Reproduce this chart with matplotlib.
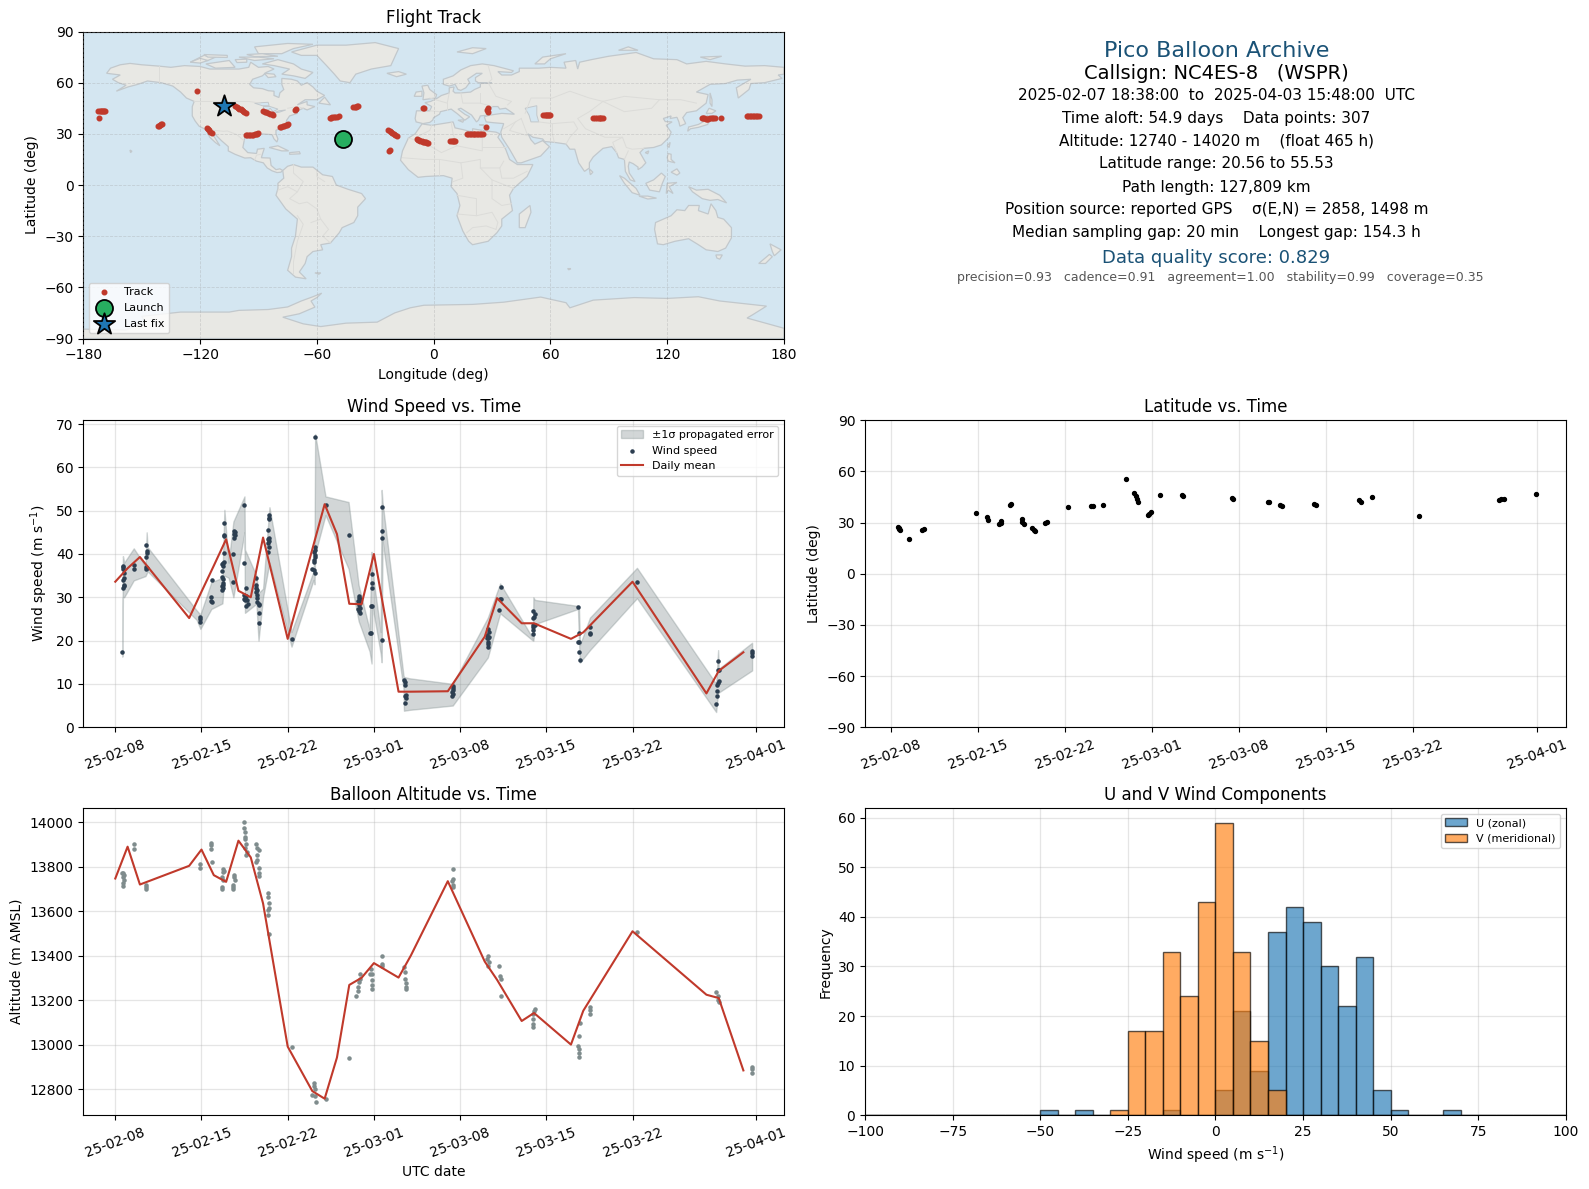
import matplotlib
matplotlib.use("Agg")
import matplotlib.dates as mdates
import matplotlib.pyplot as plt
from matplotlib.patches import Polygon

# ---- map outlines (lon, lat) ----
north_america = [(-168,65.5),(-166,68.5),(-161,70.5),(-156,71.3),(-150,70.5),(-141,69.7),(-135,69),(-128,70),(-120,69.5),(-115,68),(-108,68),(-100,68),(-95,69),(-94,72),(-90,69),(-85,69.5),(-82,68),(-86,66),(-88,64),(-93,62),(-94.5,59),(-92.5,57),(-88,56.5),(-85,55.3),(-82,55),(-82,52.5),(-79.5,51.3),(-79,54),(-77,56),(-78,59),(-78,62.5),(-73,62),(-70,61),(-68,58.5),(-65,60),(-62,57.5),(-60,55),(-56,52.5),(-60,50),(-66,50),(-70,47),(-65,49),(-65,47),(-61,46),(-65,44),(-67,45),(-70,43.5),(-70,42),(-74,40.5),(-75.5,38),(-76,35),(-78,34),(-81,32),(-81,30),(-80,27),(-80.5,25.2),(-82,27),(-83,29.5),(-85,29.7),(-89,30),(-90,29),(-94,29.5),(-97,28),(-97.5,25),(-98,22),(-95.5,19),(-91,18.5),(-90.5,21),(-87,21.5),(-88,18),(-88.5,16),(-84,15.8),(-83.5,11.5),(-81,9),(-79,9.5),(-77.5,8.5),(-78.5,7.5),(-80.5,7.3),(-83,8.3),(-85.5,10),(-87.5,13),(-91,14),(-94,16),(-97,15.8),(-102,18),(-105.5,20),(-105.5,22.5),(-109,26),(-112.5,30),(-114.5,31.5),(-112,27),(-109.8,23),(-112,24.8),(-115,28),(-117,32.5),(-120.5,34.5),(-122.5,37.5),(-124,40.5),(-124,46),(-123,49),(-127,51),(-130,54.5),(-134,58),(-140,60),(-147,61),(-152,59),(-157,57.5),(-163,55),(-158,58.5),(-162,60),(-165,62),(-161,64.5),(-168,65.5)]
greenland = [(-73,78),(-68,76),(-60,76),(-55,70),(-51,65),(-48,61),(-43,60),(-40,65),(-32,68),(-22,70),(-20,75),(-18,80),(-30,83.5),(-45,82),(-60,82),(-73,78)]
baffin = [(-80,73.5),(-72,71),(-68,68),(-62,66),(-66,62.5),(-72,64),(-78,65),(-74,68),(-82,70),(-88,71),(-80,73.5)]
victoria = [(-117,71),(-105,73),(-102,69),(-112,68.5),(-117,71)]
ellesmere = [(-90,77),(-78,77),(-72,80),(-62,82.5),(-75,83),(-92,81),(-90,77)]
arctic_a = [(-125,72),(-118,76),(-112,75),(-116,73),(-125,72)]
arctic_b = [(-100,75),(-90,75),(-82,74),(-92,73),(-100,75)]
banks = [(-125,72),(-120,74.3),(-116,73),(-120,71.5),(-125,72)]
devon = [(-96,76.5),(-88,77),(-80,75.5),(-92,75.3),(-96,76.5)]
melville = [(-118,76.5),(-106,76),(-106,74.8),(-116,75),(-118,76.5)]
prince_wales = [(-102,73.5),(-96,73.8),(-96,72),(-101,71.8),(-102,73.5)]
southampton = [(-87,65.5),(-82,65),(-81,63.5),(-85,63),(-87,65.5)]
newfoundland = [(-59,48),(-56,51.5),(-53,47),(-59,48)]
eurasia = [(-9,37),(-9.5,39),(-8.8,43.5),(-2,43.5),(-1,46),(-4.5,48.3),(-1.5,49),(2,51),(4,52.5),(8,54),(8,57),(10.5,57.5),(10,55),(11,54),(14,54),(19,54.5),(21,56),(24,57.5),(24,59.5),(30,60),(23,60),(21.5,61),(21.5,63),(25,65.5),(22,65.5),(17.5,62),(18.5,60),(16.5,57),(14,55.5),(12.5,56),(11,59),(8,58),(5,59),(5,62),(10,64),(14,67.5),(19,70),(25,71),(31,70),(41,67),(40,66),(33,66.5),(35,64.5),(40,64.5),(44,66.5),(44,68.5),(54,68.5),(60,69),(68,68.5),(67,72),(73,73),(74,68),(75,72),(81,73.5),(90,75.5),(104,77.7),(113,74),(125,73.5),(130,71),(140,72.5),(150,71),(160,69.7),(170,70),(180,69),(180,65),(177,64.5),(179,62.5),(170,60),(163,59.5),(162,56),(156.5,51),(155.5,57),(163,62),(156,61.5),(150,59.5),(142,59),(135,54.5),(141,53),(140,48),(135,43.5),(130,42.5),(128,39.5),(129.5,36),(126.5,34.5),(126,37),(125,39.7),(121.5,39),(122,40.5),(118,39),(119,37.2),(122.5,37),(119.5,35),(122,31),(121,28),(117,23.5),(113,22),(108,21.5),(106,19),(109,13),(107,10.5),(105,9),(105,10.5),(102.5,12.5),(100.5,13.5),(100,11),(100.5,7),(103.5,2),(101,3),(98.5,8),(98,15),(95,16),(94,19),(91.5,22.5),(87,21.5),(82,16.5),(80,13),(80,10),(77.5,8),(74.5,13),(73,19),(72.5,21),(70,21),(68,24),(62,25),(57,25.5),(56,27),(51,28),(48.5,30),(50,26.5),(52,24),(56,26),(59.5,22.5),(55,17),(45,13),(43,13),(39,21),(35,28),(34.5,31),(36,36),(31,36.5),(27,37),(26,40),(29,41),(35,42),(41.5,41.5),(37,45),(34,44.5),(33,46),(30,46),(28,43),(28,41),(24,40.5),(23,38),(22,37),(19.5,41),(14,45),(12.5,44.5),(16,41.5),(18.5,40),(16,38),(12.5,41.5),(9,44.5),(3.5,43),(3,41.5),(0,39.5),(-0.5,38),(-2,36.7),(-5.5,36),(-9,37)]
africa = [(-6,35.8),(-1,35),(10,37),(11,33.5),(15,32.5),(20,31),(20,33),(25,32),(32,31),(34,30),(33,28),(35.5,24),(37,21),(39,15),(43,12),(51,12),(48,5),(41,-2),(39,-6),(40.5,-15),(35,-20),(35,-24),(32.5,-28),(28,-33),(20,-35),(18,-33),(15,-27),(12,-18),(13.5,-12),(12,-5),(9,-1),(9.5,4),(5,5.5),(-4,5),(-8,4.5),(-13,9),(-17,14.5),(-16,20),(-13,27.5),(-9.5,30),(-6,35.8)]
south_america = [(-77.5,8.5),(-75,11),(-72,12),(-68,10.5),(-62,10.5),(-57,6),(-52,5),(-50,0),(-44,-2.5),(-37,-5),(-35,-8),(-39,-13),(-39,-18),(-41,-22),(-47,-25),(-48.5,-28),(-53,-34),(-58,-35),(-57,-38),(-62,-39),(-65,-42),(-66,-46),(-69,-51),(-65.5,-55),(-71,-54),(-75,-50),(-73,-42),(-73,-37),(-71,-30),(-70,-20),(-76,-14),(-81,-6),(-80,-2),(-80,1),(-77,4),(-77.5,8.5)]
australia = [(114,-22),(113.5,-26),(115,-34.5),(118,-35),(124,-33),(131,-31.5),(136,-35),(140,-38),(146,-39),(150,-37),(153,-31),(153,-25),(149,-20),(146,-19),(145,-15),(142.5,-11),(141,-17),(136,-15),(136.5,-12),(131,-12),(129,-15),(125,-14.5),(122,-18),(117,-20.5),(114,-22)]
antarctica = [(-180,-90),(-180,-84.5),(-158,-85),(-148,-80),(-150,-77),(-130,-74.5),(-105,-74.5),(-100,-73.5),(-85,-73),(-75,-71.5),(-68,-68),(-62,-65.5),(-57.5,-63.4),(-60,-66),(-63,-68),(-61,-71.6),(-69,-75.5),(-77.5,-77.5),(-67,-81.4),(-58,-83),(-45,-81),(-29,-80.4),(-20,-75),(-12,-72),(-5,-70.5),(20,-70),(36,-68.7),(55,-65.7),(68,-69),(70,-72),(82,-67.5),(103,-66),(120,-66.5),(136,-65.5),(147,-68),(171,-71),(164,-76),(161,-78),(180,-84),(180,-90)]
britain = [(-5.5,50),(1,51),(1.5,53),(-2,56),(-3,58.5),(-6,58),(-5,54),(-5.5,50)]
ireland = [(-10,52),(-6,52),(-6,55),(-9,54.5),(-10,52)]
iceland = [(-24,65.5),(-18,66.5),(-14,65),(-19,63.5),(-24,65.5)]
svalbard = [(12,78),(20,80.5),(27,80),(20,77),(12,78)]
novaya = [(52,71),(56,75),(68,77),(60,74),(57,71),(52,71)]
severnaya = [(95,79),(105,79),(100,81),(95,79)]
new_siberia = [(137,75),(148,75.5),(142,73.5),(137,75)]
sakhalin = [(142,54),(143,50),(143,46),(142,48),(142,54)]
hokkaido = [(140,42),(141.5,45),(145,43.5),(143,42),(140,42)]
honshu = [(130.5,31.5),(131,34),(136,35.5),(140,38),(140.5,41),(142,39.5),(140.8,35.5),(136,33.8),(132,33),(130.5,31.5)]
taiwan = [(120,23),(121.5,25),(121,22),(120,23)]
hainan = [(108.7,19),(110.5,20),(110,18.3),(108.7,19)]
luzon = [(120,16),(120.5,18.5),(122,18),(122,15),(124,13),(120.5,14),(120,16)]
mindanao = [(122,7.5),(125,9.5),(126.5,7),(125,5.8),(122,7.5)]
borneo = [(109,1),(113,3),(117,7),(119,5),(117.5,1),(116,-4),(111,-3),(109,1)]
sumatra = [(95.5,5.5),(98,4),(104,-2),(106,-6),(102,-4.5),(98,1),(95.5,5.5)]
java = [(105.5,-6.5),(110,-6.5),(114.5,-7.7),(110,-8.2),(105.5,-6.5)]
sulawesi = [(119.5,-5),(120,1),(125,1.5),(121,-1),(123,-5),(120.5,-3),(119.5,-5)]
new_guinea = [(131,-1),(135,-3),(141,-2.5),(147,-6),(150.5,-10.5),(146,-8.5),(142,-9),(138,-8),(133,-4),(131,-1)]
sri_lanka = [(80,9.5),(81.8,7.5),(80.5,6),(80,9.5)]
madagascar = [(49.5,-12),(50,-16),(47,-25),(44,-25),(44,-17),(49.5,-12)]
cuba = [(-84.5,22),(-80,23),(-74.5,20),(-78,20),(-84.5,22)]
hispaniola = [(-74,19),(-69,19.5),(-68.5,18.3),(-74,18),(-74,19)]
hawaii = [(-156,20.5),(-155,19.8),(-155.7,19),(-156,20.5)]
nz_north = [(172.8,-34.5),(178.5,-38),(175,-41.5),(174,-39),(172.8,-34.5)]
nz_south = [(172.5,-40.7),(174,-42),(170.5,-46),(167,-46),(172.5,-40.7)]
tasmania = [(145,-41),(148.3,-41),(147,-43.5),(145.5,-42.8),(145,-41)]
falkland = [(-61,-51.5),(-58,-51.5),(-59,-52.3),(-61,-51.5)]
kerguelen = [(68.8,-49),(70.5,-49),(69.5,-49.7),(68.8,-49)]
sicily = [(12.5,38),(15.5,38.2),(15,36.8),(12.5,38)]
crete_cyprus = [(23.5,35.4),(26,35.2),(24,35),(23.5,35.4)]
land_polys = [north_america, greenland, baffin, victoria, ellesmere, arctic_a, arctic_b, banks, devon, melville,
              prince_wales, southampton, newfoundland,
              eurasia, africa, south_america, australia, antarctica, britain, ireland, iceland, svalbard,
              novaya, severnaya, new_siberia, sakhalin, hokkaido, honshu, taiwan, hainan, luzon, mindanao,
              borneo, sumatra, java, sulawesi, new_guinea, sri_lanka, madagascar, cuba, hispaniola, hawaii,
              nz_north, nz_south, tasmania, falkland, kerguelen, sicily, crete_cyprus]

caspian = [(47,45),(53,46.5),(53,41),(54,37),(50,37),(49,41),(47,45)]
superior = [(-92,48),(-85,48.5),(-84.5,46.5),(-88,46.5),(-92,48)]
michigan_huron = [(-87.5,46),(-84,46),(-80,44.5),(-82.5,43),(-84,45),(-87,41.8),(-87.5,46)]
erie_ontario = [(-83,42),(-79,42.8),(-76,44),(-79.5,43.5),(-83,42)]
sea_polys = [caspian, superior, michigan_huron, erie_ontario]

borders = [
    [(-141,60),(-141,69.7)],
    [(-123,49),(-95,49),(-89,48)],
    [(-75,45),(-70,46),(-67,45)],
    [(-117,32.5),(-108,31.5),(-106,31.7),(-101,29.5),(-97.5,26)],
    [(-92,14.5),(-91,17.5),(-89,18)],
    [(-72,12),(-72,7),(-67,2),(-70,-4),(-74,-8),(-69,-11),(-65,-10),(-60,-14),(-58,-20),(-54,-26),(-57,-30),(-53,-34)],
    [(-80,-3),(-75,-1),(-70,-4)],
    [(-70,-18),(-67,-23),(-70,-33),(-72,-45),(-72,-52)],
    [(-60,8),(-60,5),(-56,2)],
    [(-63,-22),(-58,-20)],
    [(-9,28),(-2,32),(-1,35)],
    [(-13,27.5),(-5,25),(4,19),(12,23),(10,30),(9,37)],
    [(12,23),(25,20),(25,32)],
    [(25,22),(37,22)],
    [(-16,16),(-5,15),(3,15),(14,13),(24,15),(24,10),(34,10),(36,14)],
    [(3,15),(3,6)],
    [(14,13),(15,4),(10,2)],
    [(24,10),(30,3),(41,-2)],
    [(34,10),(35,4),(41,4),(48,8)],
    [(30,3),(30,-8),(35,-12),(40,-11)],
    [(12,-6),(22,-8),(22,-18),(12,-17)],
    [(22,-18),(30,-16),(33,-22),(32,-26)],
    [(17,-28),(20,-25),(27,-24),(32,-26)],
    [(-2,43.5),(3,43)],
    [(-2,51),(7,48),(8,54)],
    [(7,48),(7,44)],
    [(14,54),(15,48),(24,48),(30,46)],
    [(24,54),(24,48)],
    [(28,60),(32,52),(40,49),(38,47)],
    [(28,70),(30,62),(28,60)],
    [(47,42),(50,51),(61,51),(70,55),(80,51),(87,49),(98,52),(116,50),(127,50),(135,48)],
    [(87,49),(80,43),(74,39),(78,33),(88,28),(97,28),(99,22),(102,21),(108,21.5)],
    [(87,49),(98,43),(112,45),(116,50)],
    [(54,37),(61,36),(61,30),(62,25)],
    [(61,36),(72,37),(74,33),(70,28),(68,24)],
    [(45,39),(48,30)],
    [(36,33),(42,37),(45,39)],
    [(42,37),(39,32),(48,29)],
    [(94,19),(92,25),(97,28)],
    [(100,20),(98,15)],
]

# ---- flight track, reported positions ----
track_lon = [-172.3,-171.6,-171,-170.5,-170,-169.4,-168.9,-171.8,-141.8,-141.2,-140.6,-140,-139.5,-121.4,-116.6,-116,-115.5,-114.8,-114,
             -102,-101.2,-100.5,-99.8,-99,-98.4,-97.8,-97.2,-96.6,-87.5,-86.8,-86,-85,-84,-83.2,-82.4,-71,-70.6,-79,-78.2,-77.5,-76.8,-76,-75.3,-74.7,
             -96.4,-95.7,-95,-94.2,-93.5,-92.8,-92,-91.2,-90.5,-90,-53.2,-52.6,-52,-51.2,-50.5,-49.5,-48.5,-41.3,-40.6,-40,-39.4,-38.7,
             -23.3,-22.6,-22,-21.2,-20.5,-19.8,-19,-22.8,-22.3,-8.7,-8,-7.5,-6.8,-6,-5.5,-5,-4.4,-3.8,-3.2,-2.7,-5.3,-4.8,8.5,9.2,9.8,10.4,11,
             17,17.8,18.5,19.2,20,20.8,21.5,22.2,23,23.8,24.5,25.5,27,27.7,27.5,27.9,
             56.4,57,57.5,58.2,59,59.5,60,82,83,84,84.8,85.5,86.2,87,137.8,138.4,139,139.8,140.5,141.2,142,142.8,143.5,144.6,147.4,
             160.9,161.7,162.5,163.2,164,164.8,165.5,166.2,166.9]
track_lat = [43.5,43.6,43.6,43.5,43.5,43.6,43.6,39.4,34.5,34.8,35.1,35.5,35.8,55.2,33.3,32.6,32,31.3,30.6,
             46.6,46,45.4,44.8,44.3,43.7,43.2,42.6,42.1,43.1,42.9,42.6,42.2,41.9,41.6,41.3,44.1,44.3,34,34.3,34.6,34.8,34.9,35.2,35.5,
             29.2,29.2,29.3,29.4,29.5,29.6,29.8,30,30.2,30.6,39.4,39.5,39.6,39.7,39.9,40,40.2,45.7,45.9,46,46.2,46.4,
             32,31.5,31,30.5,30,29.5,29,20.2,20.6,26.7,26.4,26.2,26,25.8,25.5,25.3,25.1,25,24.7,24.5,45.3,45.3,26,26,26,26,26,
             30,30,30,30,30,30,30,30,30,30,30,30,34.1,45.3,44,43,
             41,41,41,41,41,41,41,39.4,39.4,39.4,39.4,39.4,39.4,39.4,39.3,39.1,39,38.9,38.9,38.9,39,39,39,39,39,
             40.6,40.6,40.6,40.6,40.6,40.6,40.6,40.6,40.6]
launch_lon, launch_lat = -46.4, 27.1
last_lon, last_lat = -107.5, 46.6

# ---- time series, x in days after 2025-02-08 ----
wind_days = [.65,.65,.65,.73,.73,.65,.73,.65,.73,.57,1.49,1.49,
             2.52,2.6,2.6,2.52,2.5,2.6,2.5,6.91,6.91,6.91,7.88,7.8,7.8,7.88,
             8.86,8.86,8.86,8.86,8.7,8.78,8.86,8.78,8.7,8.7,8.78,8.78,8.78,8.7,8.78,8.7,
             9.67,9.75,9.67,9.75,9.67,9.59,9.59,
             10.49,10.49,10.65,10.49,10.57,10.65,10.49,10.57,10.71,10.76,10.65,
             11.46,11.46,11.46,11.54,11.46,11.54,11.54,11.54,11.63,11.71,11.63,11.63,
             12.52,12.52,12.52,12.44,12.52,12.36,12.52,12.44,12.52,12.44,
             16.23,16.18,16.18,16.1,16.18,16.18,16.1,16.1,16,16.1,16.18,14.31,17.07,18.94,
             19.76,19.76,19.84,19.67,19.84,19.76,19.67,19.84,19.76,19.84,
             20.65,20.73,20.73,20.81,20.81,20.81,20.81,21.63,21.63,21.63,21.63,
             23.44,23.52,23.52,23.6,23.52,23.6,23.52,
             27.4,27.4,27.4,27.32,27.4,27.32,
             30.25,30.33,30.17,30.33,30.25,30.17,30.25,30.25,30.25,
             31.33,31.25,31.33,31.14,33.91,34.07,33.99,33.91,33.91,34.07,33.91,33.91,33.91,
             37.57,37.65,37.57,37.65,37.65,37.73,38.54,38.54,38.54,42.36,
             48.95,49.03,48.95,49.03,48.95,48.87,48.87,48.87,48.79,51.71,51.71,51.71]
wind_speed = [37.3,36.9,36.6,35.6,34.4,33.9,32.9,32.2,32.5,17.3,37.5,36.6,
              42.0,40.6,40.2,39.3,36.9,36.7,36.5,25.5,25.0,24.4,33.9,30.0,29.2,28.9,
              47.1,44.3,44.2,40.2,37.6,37.9,38.1,37.2,36.0,34.8,34.2,33.2,32.9,32.5,32.1,31.6,
              45.3,45.0,44.6,44.3,43.8,40.0,33.5,
              51.3,37.9,32.2,30.6,29.9,30.4,29.6,29.3,29.4,28.4,28.1,
              34.4,32.8,32.2,31.7,31.2,30.6,29.8,28.9,28.4,28.2,26.3,24.0,
              48.9,48.4,48.0,45.5,43.8,43.5,43.0,42.5,41.5,40.4,
              67.0,41.5,41.0,40.4,39.8,39.2,38.6,38.1,36.6,36.2,35.7,20.3,51.3,44.3,
              30.2,29.9,29.6,29.2,28.9,28.2,27.3,27.5,26.9,26.3,
              21.8,21.7,27.9,27.9,35.3,33.3,32.1,50.8,45.3,43.7,20.1,
              11.0,10.5,9.7,7.4,7.1,6.7,5.7,
              9.5,9.0,8.5,8.1,7.6,7.3,
              22.7,21.9,21.3,20.9,20.5,20.5,19.6,19.2,18.6,
              32.3,29.6,29.6,27.0,26.9,26.2,25.5,25.2,23.6,23.5,23.2,22.4,21.5,
              27.7,21.7,19.6,19.6,17.3,15.5,23.1,21.7,21.5,33.5,
              15.2,13.1,13.1,10.7,10.3,9.8,8.4,7.1,5.3,17.6,17.1,16.5]

band_days = [.57,.62,.72,1.5,2.45,2.55,2.62,6.6,6.91,7.8,8.7,8.86,9.2,9.59,10.49,10.53,11.46,11.63,12.0,12.52,
             14.31,16.1,16.18,16.23,17.07,18.94,19.76,20.65,20.81,20.88,21.55,21.63,21.7,23.4,23.44,23.88,27.4,30.25,31.25,
             33.91,33.95,34.07,37.57,37.65,37.73,38.54,42.36,48.79,48.95,49.0,51.71]
band_upper = [18.5,39.5,38,41.3,37.2,45,41.6,27,26,33.5,34.5,50.2,38,47.5,53.3,41,35,31,32,50.8,
              22,36,41,67.7,53.3,52,32.8,22.5,40.5,36,22,54.8,52,12,11.6,11.3,10,25.3,33.2,
              20.5,30,29.4,28,27.8,19,25.3,36.8,10,17.8,13.5,19.5]
band_lower = [16.3,30,30,33.9,34.9,35.5,36,24.8,22.7,27.3,28.6,35,34.5,30,45,26.4,28.5,20,30,38,
              18.6,34,33,40,49,36.6,24.5,17.5,14.7,28,17,15,43,9,3.8,4,5,16.1,26.3,
              20,20,23.8,27.3,20,14.9,17.8,29.8,3.5,8,8,13.1]

mean_days = [0,1,2,6,7,8,9,10,11,12,14,15,16,17,18,19,20,21,23,24,27,30,31,33,34,37,38,42,48,49,51]
wind_mean = [33.6,36.7,39.3,25.2,31.3,37.3,43.4,31.5,30.0,43.8,20.4,30.8,41.1,51.5,44.6,28.5,28.4,40.0,8.2,8.2,8.3,20.9,29.8,24.0,24.0,20.4,21.9,33.6,7.8,13.0,17.3]

alt_days = [.65,.73,.57,.65,.73,.65,.65,1.49,1.54,2.52,2.52,2.52,6.91,6.91,7.8,7.8,7.8,7.88,
            8.78,8.78,8.86,8.7,8.78,8.7,8.7,9.67,9.67,9.75,9.59,9.59,9.59,
            10.49,10.49,10.57,10.57,10.57,10.65,10.57,10.73,10.65,
            11.46,11.54,11.63,11.54,11.54,11.46,11.63,11.63,11.63,
            12.44,12.44,12.52,12.52,12.44,12.44,12.52,14.31,
            16.1,16.1,16.18,16,16.18,16.26,17.07,18.94,
            19.84,19.84,19.76,19.67,19.67,19.57,20.73,20.65,20.81,20.81,20.81,20.81,21.63,21.63,21.63,
            23.44,23.52,23.52,23.6,23.6,23.6,27.4,27.4,27.32,27.4,27.4,
            30.25,30.17,30.33,30.25,31.14,31.25,31.33,31.33,
            34.07,33.99,33.91,33.91,33.91,33.91,37.73,37.65,37.57,37.65,37.65,37.65,38.54,38.54,38.54,
            42.36,48.79,48.95,48.95,49.03,51.71,51.71,51.71]
alt_m = [13770,13762,13770,13752,13740,13728,13713,13901,13878,13720,13710,13698,13812,13795,13908,13898,13878,13820,
         13788,13777,13782,13752,13740,13710,13699,13762,13752,13740,13717,13707,13698,
         14000,13976,13958,13935,13923,13902,13883,13868,13853,
         13902,13883,13875,13853,13830,13820,13792,13770,13758,
         13680,13662,13639,13616,13607,13582,13499,12989,
         12830,12815,12800,12774,12770,12741,12755,12940,
         13319,13296,13281,13259,13243,13219,13341,13319,13316,13289,13270,13251,13400,13361,13352,
         13349,13326,13296,13277,13259,13250,13788,13747,13737,13717,13710,
         13398,13386,13371,13356,13355,13310,13296,13219,
         13161,13153,13138,13116,13093,13078,13098,13039,12995,12980,12965,12944,13168,13158,13138,
         13508,13237,13218,13201,13191,12899,12890,12872]
alt_mean = [13747,13890,13720,13804,13877,13762,13732,13917,13842,13635,12992,12792,12758,12943,13269,13301,13367,13302,13401,13735,13374,13292,13107,13143,13001,13153,13510,13225,13210,12885]
alt_mean_days = [0,1,2,6,7,8,9,10,11,12,14,16,17,18,19,20,21,23,24,27,30,31,33,34,37,38,42,48,49,51]

lat_days = [.6,.65,.7,.75,1.5,2.55,2.65,6.9,7.75,7.85,8.75,8.85,8.9,9.6,9.7,10.55,10.6,10.7,11.4,11.5,11.6,
            12.45,12.55,14.3,16.1,16.25,17.1,18.9,19.6,19.7,19.8,19.9,20.7,20.8,20.9,21.7,23.45,23.55,
            27.45,27.55,30.35,30.45,31.35,31.5,34.05,34.2,37.7,37.85,38.7,42.5,48.95,49.1,49.3,51.9]
lat_deg = [27.3,27,26.3,25.8,20.5,25.6,26.4,35.3,33.5,31.3,29.2,30,30.8,40,40.6,32.2,30.5,29.4,26.6,25.7,25.1,
           30,30.6,39.3,39.4,39.6,40,55.4,47.2,45.5,43.7,42.2,34.6,35.2,36,46.4,45.9,45.3,
           44.6,43.9,41.8,41.8,40.1,39.4,41.1,40.4,43,42.2,44.8,34.1,43.5,43.6,43.7,46.6]

date_ticks = ["2025-02-08","2025-02-15","2025-02-22","2025-03-01","2025-03-08","2025-03-15","2025-03-22","2025-04-01"]

# ---- histogram counts, 5 m/s bins from -100 to 100 ----
hist_edges = list(range(-100, 105, 5))
u_counts = [0]*10 + [1,0,1,0,0,0,0,1,0,0, 5,21,9,37,42,39,30,22,32,5, 1,0,0,1,0,0,0,0,0,0]
v_counts = [0]*10 + [0,0,0,0,1,17,17,33,24,43, 59,33,15,5,0,0,0,0,0,0, 0,0,0,0,0,0,0,0,0,0]

RED = "#c0392b"
NAVY = "#2c3e50"
GREY = "#7f8c8d"
TITLE_BLUE = "#1a5276"


def day_nums(days):
    base = mdates.datestr2num("2025-02-08")
    return [base + d for d in days]


def time_axis(ax, start=-2.6):
    ax.set_xticks([mdates.datestr2num(d) for d in date_ticks])
    ax.xaxis.set_major_formatter(mdates.DateFormatter("%y-%m-%d"))
    ax.set_xlim(*day_nums([start, 54.3]))
    ax.tick_params(axis="x", rotation=20)
    ax.grid(True, color="#b0b0b0", lw=0.9, alpha=0.32)
    ax.set_axisbelow(True)


fig = plt.figure(figsize=(15.89, 11.89), dpi=100)
left, right = 0.0524, 0.5444
w, h = 0.441, 0.2582
ax_map = fig.add_axes([left, 0.7153, w, h])
ax_txt = fig.add_axes([right, 0.7153, w, h])
ax_wind = fig.add_axes([left, 0.3884, w, h])
ax_lat = fig.add_axes([right, 0.3884, w, h])
ax_alt = fig.add_axes([left, 0.0621, w, h])
ax_hist = fig.add_axes([right, 0.0621, w, h])

# map
ax_map.set_facecolor("#d4e6f1")
for poly in land_polys:
    ax_map.add_patch(Polygon(poly, closed=True, facecolor="#e8e8e4", edgecolor="#c2c8cc", lw=0.9, zorder=1))
for poly in sea_polys:
    ax_map.add_patch(Polygon(poly, closed=True, facecolor="#d4e6f1", edgecolor="#c2c8cc", lw=0.7, zorder=1.1))
for line in borders:
    ax_map.plot([p[0] for p in line], [p[1] for p in line], color="#dcdcd9", lw=0.7, zorder=1.2)
ax_map.scatter(track_lon, track_lat, s=11, color=RED, zorder=3, label="Track")
ax_map.scatter([launch_lon], [launch_lat], s=150, color="#27ae60", edgecolor="black", lw=1.3, zorder=4, label="Launch")
ax_map.scatter([last_lon], [last_lat], s=260, marker="*", color="#1f77b4", edgecolor="black", lw=1.3, zorder=5, label="Last fix")
ax_map.set_xlim(-180, 180)
ax_map.set_ylim(-90, 90)
ax_map.set_xticks(range(-180, 181, 60))
ax_map.set_yticks(range(-90, 91, 30))
ax_map.grid(True, color="#a0a0a0", lw=0.6, ls="--", alpha=0.35, zorder=2)
ax_map.set_axisbelow(False)
ax_map.set_xlabel("Longitude (deg)")
ax_map.set_ylabel("Latitude (deg)")
ax_map.set_title("Flight Track")
ax_map.legend(loc="lower left", fontsize=8, framealpha=0.8)

# summary text
ax_txt.axis("off")
summary = [
    (0.5014, 0.935, "Pico Balloon Archive", 16, TITLE_BLUE),
    (0.5014, 0.862, "Callsign: NC4ES-8   (WSPR)", 14, "black"),
    (0.5014, 0.793, "2025-02-07 18:38:00  to  2025-04-03 15:48:00  UTC", 11, "black"),
    (0.5014, 0.717, "Time aloft: 54.9 days    Data points: 307", 11, "black"),
    (0.5014, 0.642, "Altitude: 12740 - 14020 m    (float 465 h)", 11, "black"),
    (0.5014, 0.569, "Latitude range: 20.56 to 55.53", 11, "black"),
    (0.5014, 0.493, "Path length: 127,809 km", 11, "black"),
    (0.5014, 0.420, "Position source: reported GPS    σ(E,N) = 2858, 1498 m", 11, "black"),
    (0.5014, 0.345, "Median sampling gap: 20 min    Longest gap: 154.3 h", 11, "black"),
    (0.5014, 0.262, "Data quality score: 0.829", 13, TITLE_BLUE),
    (0.5075, 0.199, "precision=0.93   cadence=0.91   agreement=1.00   stability=0.99   coverage=0.35", 9, "#555555"),
]
for x, y, text, size, colour in summary:
    ax_txt.text(x, y, text, ha="center", va="center", fontsize=size, color=colour, transform=ax_txt.transAxes)

# wind speed
ax_wind.fill_between(day_nums(band_days), band_lower, band_upper, color=GREY, alpha=0.35, label="±1σ propagated error")
ax_wind.scatter(day_nums(wind_days), wind_speed, s=5, color=NAVY, zorder=3, label="Wind speed")
ax_wind.plot(day_nums(mean_days), wind_mean, color=RED, lw=1.5, zorder=4, label="Daily mean")
time_axis(ax_wind)
ax_wind.set_ylim(0, 70.9)
ax_wind.set_ylabel("Wind speed (m s$^{-1}$)")
ax_wind.set_title("Wind Speed vs. Time")
ax_wind.legend(loc="upper right", fontsize=8)

# latitude
ax_lat.scatter(day_nums(lat_days), lat_deg, s=8, color="black", zorder=3)
time_axis(ax_lat, start=-2.06)
ax_lat.set_ylim(-90, 90)
ax_lat.set_yticks(range(-90, 91, 30))
ax_lat.set_ylabel("Latitude (deg)")
ax_lat.set_title("Latitude vs. Time")

# altitude
ax_alt.scatter(day_nums(alt_days), alt_m, s=5, color=GREY, zorder=3)
ax_alt.plot(day_nums(alt_mean_days), alt_mean, color=RED, lw=1.5, zorder=4)
time_axis(ax_alt)
ax_alt.set_ylim(12684, 14063)
ax_alt.set_yticks(range(12800, 14001, 200))
ax_alt.set_xlabel("UTC date")
ax_alt.set_ylabel("Altitude (m AMSL)")
ax_alt.set_title("Balloon Altitude vs. Time")

# histogram
ax_hist.hist(hist_edges[:-1], bins=hist_edges, weights=u_counts, color="#1f77b4", alpha=0.65, edgecolor="black", label="U (zonal)")
ax_hist.hist(hist_edges[:-1], bins=hist_edges, weights=v_counts, color="#ff7f0e", alpha=0.65, edgecolor="black", label="V (meridional)")
ax_hist.set_xlim(-100, 100)
ax_hist.set_xticks(range(-100, 101, 25))
ax_hist.set_ylim(0, 61.95)
ax_hist.grid(True, color="#b0b0b0", lw=0.9, alpha=0.32)
ax_hist.set_axisbelow(True)
ax_hist.set_xlabel("Wind speed (m s$^{-1}$)")
ax_hist.set_ylabel("Frequency")
ax_hist.set_title("U and V Wind Components")
ax_hist.legend(loc="upper right", fontsize=8)

fig.savefig("out.png", dpi=100)
